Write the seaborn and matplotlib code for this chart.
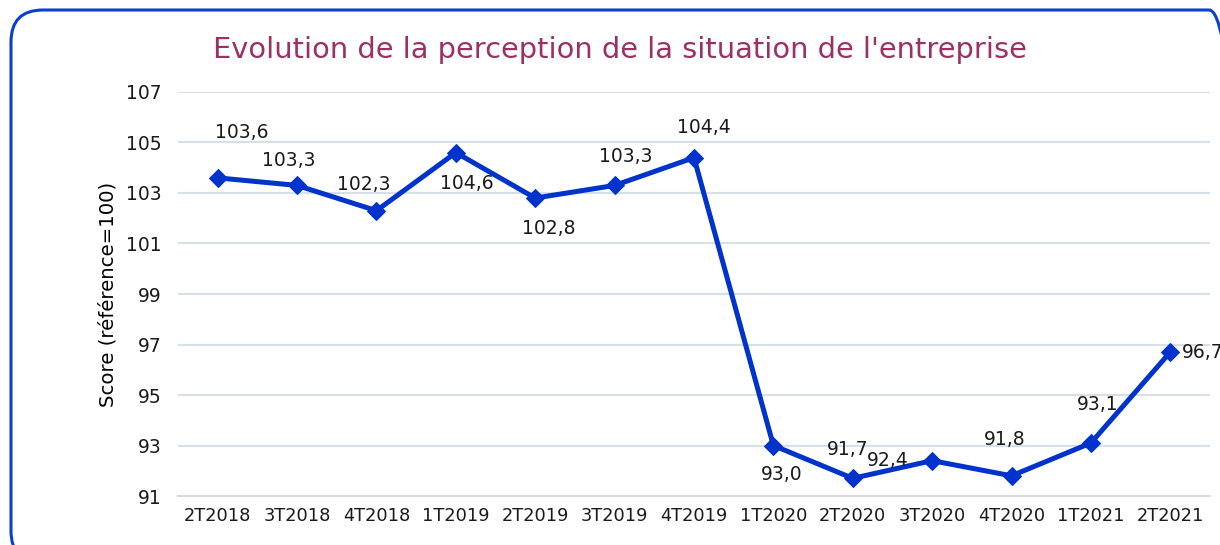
import pandas as pd
import matplotlib.pyplot as plt
import seaborn as sns
from matplotlib.patches import FancyBboxPatch
from matplotlib.transforms import IdentityTransform

trimestres = ['2T2018', '3T2018', '4T2018', '1T2019', '2T2019', '3T2019', '4T2019',
              '1T2020', '2T2020', '3T2020', '4T2020', '1T2021', '2T2021']
scores = [103.6, 103.3, 102.3, 104.6, 102.8, 103.3, 104.4,
          93.0, 91.7, 92.4, 91.8, 93.1, 96.7]
# label offsets in points (dx, dy), as placed by the original chart
label_offsets = [(17, 33), (-6, 18), (-9, 19), (8, -22), (10, -22), (8, 21), (7, 22),
                 (6, -21), (-4, 21), (-32, 0), (-5, 26), (5, 28), (8, 0)]
y_ticks = [91, 93, 95, 97, 99, 101, 103, 105, 107]

df = pd.DataFrame({'trimestre': trimestres, 'score': scores})

sns.set_theme(style="white")
plt.rcParams['font.family'] = ['DejaVu Sans']

fig = plt.figure(figsize=(12.2, 5.45), dpi=100)
ax = fig.add_axes([0.1459, 0.0899, 0.9918 - 0.1459, 0.8312 - 0.0899])

line_color = '#0033cc'
sns.lineplot(data=df, x='trimestre', y='score', ax=ax, color=line_color,
             linewidth=3.6, marker='D', markersize=9.5, markeredgecolor=line_color,
             sort=False)

for i, (v, off) in enumerate(zip(scores, label_offsets)):
    ha = 'left' if i == len(scores) - 1 else 'center'
    ax.annotate(f'{v:.1f}'.replace('.', ','), (i, v), xytext=off,
                textcoords='offset points', ha=ha, va='center',
                fontsize=13.5, color='#1a1a1a', annotation_clip=False)

ax.set_xlim(-0.5, len(trimestres) - 0.5)
ax.set_ylim(91, 107)
ax.set_yticks(y_ticks)
ax.yaxis.grid(True, color='#d5e0e8', linewidth=1.5)
ax.set_axisbelow(True)
for s in ['top', 'right', 'left']:
    ax.spines[s].set_visible(False)
ax.spines['bottom'].set_color('#d9d9d9')
ax.spines['bottom'].set_linewidth(1.5)
ax.tick_params(axis='both', length=0, colors='#1a1a1a')
ax.tick_params(axis='y', pad=12, labelsize=13.5)
ax.tick_params(axis='x', pad=8, labelsize=12.8)
ax.set_xlabel('')
ax.set_ylabel('Score (référence=100)', fontsize=14.2, color='black', labelpad=6)

fig.text(0.508, 0.908, "Evolution de la perception de la situation de l'entreprise",
         ha='center', va='center', fontsize=20.8, color='#9c2f63')

# rounded frame in pixel coordinates, running off the right and bottom edges
border = FancyBboxPatch((11, -18), 1230, 535 - (-18),
                        boxstyle='round,pad=0,rounding_size=32',
                        transform=IdentityTransform(), facecolor='none',
                        edgecolor='#0a3fd0', linewidth=2.2, clip_on=False)
fig.patches.append(border)

fig.savefig('out.png', dpi=100, facecolor='white')
